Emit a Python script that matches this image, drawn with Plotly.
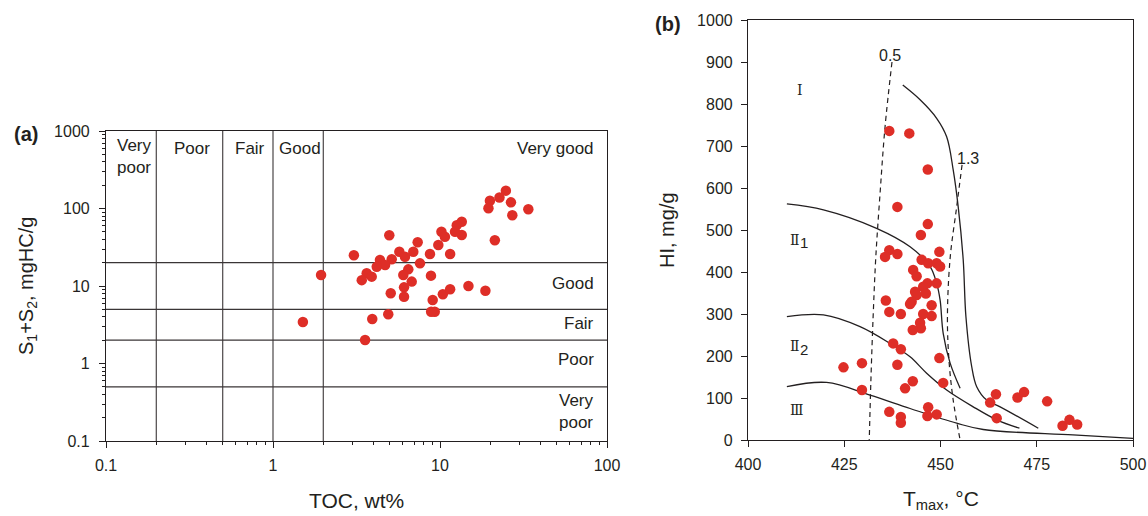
import plotly.graph_objects as go

# ---------------- data: panel (a) ----------------
TOC = [24.8, 22.7, 19.9, 19.5, 26.6, 27.1, 33.8, 21.3, 13.5, 12.6, 13.5, 12.3, 10.2, 10.7,
       9.77, 11.5, 8.71, 7.35, 4.97, 3.05, 5.71, 6.92, 6.17, 7.59, 5.14, 4.37, 4.69, 4.18,
       3.64, 3.40, 3.90, 6.46, 6.03, 6.77, 8.83, 6.09, 5.07, 6.09, 9.04, 10.4, 11.5, 14.8,
       18.7, 9.3, 8.85, 4.90, 3.93, 3.56, 1.51, 1.94]
S1S2 = [170, 139, 126, 101, 120, 82, 98, 39, 67.6, 61, 45.5, 50.2, 50.2, 43.3,
        33.8, 25.9, 25.9, 36.7, 45.1, 24.9, 27.7, 27.7, 23.9, 19.6, 22.1, 21.6, 18.7, 17.7,
        14.6, 11.9, 13.2, 16.4, 13.9, 11.4, 13.6, 9.6, 8.05, 7.28, 6.6, 7.82, 9.07, 10.0,
        8.7, 4.66, 4.66, 4.31, 3.75, 2.01, 3.43, 13.9]
TOC_BOUNDS = [0.2, 0.5, 1, 2]
S_BOUNDS = [0.5, 2, 5, 20]
X_TICKS_A = [0.1, 1, 10, 100]
Y_TICKS_A = [0.1, 1, 10, 100, 1000]

# ---------------- data: panel (b) ----------------
TMAX = [436.7, 441.9, 446.7, 438.8, 446.7, 444.9, 449.7, 436.7, 438.8, 435.6,
        445.1, 442.9, 443.8, 446.8, 449.0, 449.9, 446.6, 449.0, 445.5, 443.4,
        446.2, 443.8, 442.5, 442.1, 447.7, 435.8, 436.7, 439.7, 445.5, 447.7,
        444.7, 444.9, 442.8, 437.7, 439.7, 449.7, 438.8, 424.8, 429.6, 442.8,
        440.8, 450.7, 429.6, 436.7, 439.7, 439.7, 446.8, 446.6, 449.0, 462.9,
        464.4, 464.6, 470.0, 471.7, 477.7, 481.7, 483.5, 485.5]
HI = [736, 730, 644, 555, 514, 488, 448, 452, 443, 436,
      429, 405, 390, 421, 421, 413, 373, 373, 365, 353,
      349, 345, 329, 324, 321, 332, 305, 300, 300, 295,
      279, 266, 262, 230, 216, 195, 179, 173, 183, 140,
      123, 136, 119, 67, 55, 41, 78, 57, 61, 89,
      109, 52, 101, 114, 92, 34, 48, 37]

CURVE_I_T = [440.2, 444.7, 449.0, 451.6, 453.3, 454.6, 455.9, 456.6, 458.1, 459.4, 462.0, 465.5, 475.4]
CURVE_I_HI = [845, 810, 766, 722, 643, 555, 429, 294, 175, 127, 95, 79, 28]
CURVE_II1_T = [410.1, 419.6, 433.4, 442.1, 447.3, 449.0, 449.9, 450.7, 452.5, 455.1]
CURVE_II1_HI = [562, 548, 504, 460, 413, 373, 333, 254, 183, 123]
CURVE_II2_T = [410.1, 419.6, 429.1, 436.9, 442.1, 446.4, 451.6, 458.5, 464.6, 470.5]
CURVE_II2_HI = [294, 298, 270, 230, 198, 159, 119, 79, 48, 28]
CURVE_III_T = [410.1, 420.4, 431.7, 442.1, 454.2, 461.1, 484.4, 500.0]
CURVE_III_HI = [127, 137, 107, 75, 40, 25, 12, 4]
RO05_T = [437.4, 435.6, 434.3, 433.2, 432.5, 431.9, 431.5]
RO05_HI = [900, 746, 587, 436, 294, 135, 0]
RO13_T = [455.6, 454.2, 452.5, 451.8, 452.2, 453.3, 455.1]
RO13_HI = [655, 555, 433, 294, 190, 95, 0]

W, H = 1148, 516
INK = "#231f20"
RED = "#de2e27"
FONT = "Liberation Sans, Arial, sans-serif"


def px(x):
    return x / W


def py(y):
    return 1 - y / H


fig = go.Figure()

# ---- panel (a) class boundary lines ----
gx, gy = [], []
for b in TOC_BOUNDS:
    gx += [b, b, None]
    gy += [Y_TICKS_A[0], Y_TICKS_A[-1], None]
for b in S_BOUNDS:
    gx += [X_TICKS_A[0], X_TICKS_A[-1], None]
    gy += [b, b, None]
fig.add_trace(go.Scatter(x=gx, y=gy, mode="lines", line=dict(color="#3a3536", width=1.1),
                         hoverinfo="skip", showlegend=False, xaxis="x", yaxis="y"))
fig.add_trace(go.Scatter(x=TOC, y=S1S2, mode="markers",
                         marker=dict(color=RED, size=10.5, line=dict(width=0)),
                         showlegend=False, xaxis="x", yaxis="y"))

# ---- panel (b) curves ----
for tx, hy in [(CURVE_I_T, CURVE_I_HI), (CURVE_II1_T, CURVE_II1_HI),
               (CURVE_II2_T, CURVE_II2_HI), (CURVE_III_T, CURVE_III_HI)]:
    fig.add_trace(go.Scatter(x=tx, y=hy, mode="lines", line=dict(color=INK, width=1.3, shape="spline"),
                             hoverinfo="skip", showlegend=False, xaxis="x2", yaxis="y2"))
for tx, hy in [(RO05_T, RO05_HI), (RO13_T, RO13_HI)]:
    fig.add_trace(go.Scatter(x=tx, y=hy, mode="lines",
                             line=dict(color=INK, width=1.2, dash="5px,4px", shape="spline"),
                             hoverinfo="skip", showlegend=False, xaxis="x2", yaxis="y2"))
fig.add_trace(go.Scatter(x=TMAX, y=HI, mode="markers",
                         marker=dict(color=RED, size=10.5, line=dict(width=0)),
                         showlegend=False, xaxis="x2", yaxis="y2"))

axis_common = dict(showline=True, linecolor=INK, linewidth=1.2, mirror=True, showgrid=False,
                   zeroline=False, ticks="outside", tickcolor=INK, ticklen=6, tickwidth=1.2,
                   automargin=False,
                   tickfont=dict(family=FONT, size=16, color=INK))

minor_x = [m * 10 ** e for e in (-1, 0, 1) for m in range(2, 10)]
minor_y = [m * 10 ** e for e in (-1, 0, 1, 2) for m in range(2, 10)]

fig.update_layout(
    width=W, height=H, margin=dict(l=0, r=0, t=0, b=0, autoexpand=False),
    paper_bgcolor="white", plot_bgcolor="white",
    font=dict(family=FONT, color=INK, size=16),
    xaxis=dict(domain=[px(106), px(607)], anchor="y", type="log", range=[-1, 2],
               tickmode="array", tickvals=X_TICKS_A, ticktext=[str(v) for v in X_TICKS_A],
               minor=dict(tickmode="array", tickvals=minor_x, ticks="outside", ticklen=3,
                          tickcolor=INK, tickwidth=1),
               ticklabelstandoff=4, **axis_common),
    yaxis=dict(domain=[py(441), py(131)], anchor="x", type="log", range=[-1, 3],
               tickmode="array", tickvals=Y_TICKS_A, ticktext=[str(v) for v in Y_TICKS_A],
               minor=dict(tickmode="array", tickvals=minor_y, ticks="outside", ticklen=3,
                          tickcolor=INK, tickwidth=1),
               ticklabelstandoff=6, **axis_common),
    xaxis2=dict(domain=[px(748), px(1133)], anchor="y2", range=[400, 500],
                tickmode="linear", tick0=400, dtick=25, ticklabelstandoff=4, **axis_common),
    yaxis2=dict(domain=[py(440), py(20)], anchor="x2", range=[0, 1000],
                tickmode="linear", tick0=0, dtick=100, ticklabelstandoff=5, **axis_common),
)

ann = []


def add(text, x, y, xa="center", ya="middle", size=17, family=FONT, align="center", angle=0):
    ann.append(dict(text=text, x=px(x), y=py(y), xref="paper", yref="paper", xanchor=xa,
                    yanchor=ya, showarrow=False, align=align, textangle=angle,
                    font=dict(family=family, size=size, color=INK)))


# panel labels
add("<b>(a)</b>", 26, 134, size=20)
add("<b>(b)</b>", 668, 24, size=20)
# axis titles
add("TOC, wt%", 356, 500, size=21)
add("T<sub>max</sub>, °C", 941, 500, size=21)
add("S<sub>1</sub>+S<sub>2</sub>, mgHC/g", 27, 286, size=20, angle=-90)
add("HI, mg/g", 667, 230, size=20, angle=-90)
# class labels panel (a)
add("Very<br>poor", 115, 156, xa="left", align="left")
add("Poor", 192, 148)
add("Fair", 250, 148)
add("Good", 300, 148)
add("Very good", 596, 148, xa="right")
add("Good", 596, 283, xa="right")
add("Fair", 596, 323, xa="right")
add("Poor", 596, 359, xa="right")
add("Very<br>poor", 596, 411, xa="right", align="right")
# panel (b) labels
add("0.5", 890, 56, size=16)
add("1.3", 968, 158, size=16)
SER = "DejaVu Serif, serif"
add("Ⅰ", 800, 90, size=14, family=SER)
add("Ⅱ", 788, 240, xa="left", size=14, family=SER)
add("1", 798, 243, xa="left", size=15)
add("Ⅱ", 788, 346, xa="left", size=14, family=SER)
add("2", 798, 349, xa="left", size=15)
add("Ⅲ", 788, 410, xa="left", size=14, family=SER)

fig.update_layout(annotations=ann)
fig.write_html("out.html")
